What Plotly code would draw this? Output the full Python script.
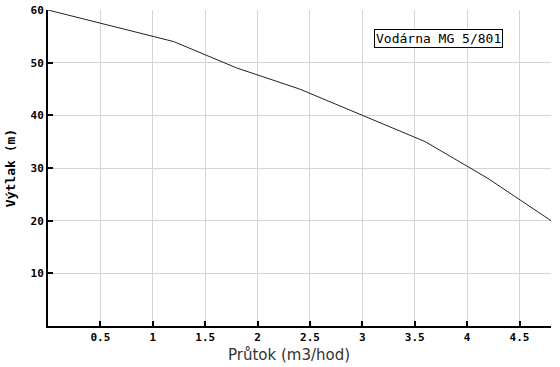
import plotly.graph_objects as go

flow = [0.0, 1.2, 1.8, 2.4, 3.0, 3.6, 4.2, 4.8]
head = [60, 54, 49, 45, 40, 35, 28, 20]
x_ticks = [0.5, 1, 1.5, 2, 2.5, 3, 3.5, 4, 4.5]
y_ticks = [10, 20, 30, 40, 50, 60]

fig = go.Figure()
fig.add_trace(go.Scatter(x=flow, y=head, mode="lines",
                         line=dict(color="#222222", width=1), showlegend=False,
                         hoverinfo="skip"))

mono = "DejaVu Sans Mono"
fig.update_layout(
    width=560, height=367, autosize=False,
    margin=dict(l=48, r=9, t=10, b=41, autoexpand=False),
    paper_bgcolor="white", plot_bgcolor="white",
    xaxis=dict(range=[0, 4.8], tickvals=x_ticks, ticktext=[str(v) for v in x_ticks],
               automargin=False,
               showgrid=True, gridcolor="#d4d4d4", gridwidth=1,
               showline=True, linecolor="black", linewidth=2,
               ticks="inside", ticklen=5, tickcolor="black", tickwidth=2,
               tickfont=dict(family=mono, size=11, color="black", weight="bold"),
               zeroline=False),
    yaxis=dict(range=[0, 60], tickvals=y_ticks, ticktext=[str(v) for v in y_ticks],
               automargin=False,
               showgrid=True, gridcolor="#d4d4d4", gridwidth=1,
               showline=True, linecolor="black", linewidth=2,
               ticks="inside", ticklen=5, tickcolor="black", tickwidth=2,
               tickfont=dict(family=mono, size=11, color="black", weight="bold"),
               title=dict(text="Výtlak (m)", standoff=12,
                          font=dict(family=mono, size=13, color="black", weight="bold")),
               zeroline=False),
    annotations=[
        dict(text="Vodárna MG 5/801", xref="paper", yref="paper",
             x=0.777, y=0.911, xanchor="center", yanchor="middle",
             showarrow=False, bgcolor="white", bordercolor="black",
             borderwidth=1, borderpad=1,
             font=dict(family=mono, size=13, color="black")),
        dict(text="Průtok (m3/hod)", xref="paper", yref="paper",
             x=0.48, y=-0.093, xanchor="center", yanchor="middle",
             showarrow=False,
             font=dict(family="DejaVu Sans", size=15, color="#333333")),
    ],
)

fig.write_html("out.html", config={"responsive": False, "displayModeBar": False},
               post_script="document.body.style.margin='0';")
